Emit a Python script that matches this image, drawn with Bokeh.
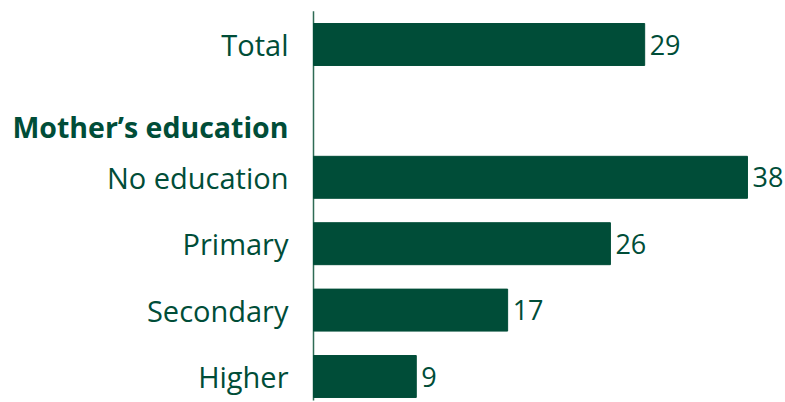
from bokeh.plotting import figure
from bokeh.models import Range1d, ColumnDataSource
from bokeh.core.properties import value
from bokeh.embed import file_html
from bokeh.resources import INLINE

categories = ["Total", "No education", "Primary", "Secondary", "Higher"]
values = [29, 38, 26, 17, 9]
header = "Mother\u2019s education"
positions = [0, 2, 3, 4, 5]
header_pos = 1.235

GREEN = "#004d38"
FONT = "Open Sans"

W, H = 785, 402
px_per_unit_y = 66.4
top_px = 44
scale_x = 11.42
axis_px = 313

p = figure(width=W, height=H, output_backend="svg", toolbar_location=None,
           min_border=0, outline_line_color=None,
           x_range=Range1d(-axis_px / scale_x, (W - axis_px) / scale_x),
           y_range=Range1d((H - top_px) / px_per_unit_y, -top_px / px_per_unit_y))
p.axis.visible = False
p.grid.visible = False
p.background_fill_color = "white"
p.border_fill_color = "white"

src = ColumnDataSource(dict(y=positions, v=values, cat=categories,
                            lab=[str(v) for v in values]))

# vertical baseline axis
p.segment(x0=[0], y0=[-0.5], x1=[0], y1=[5.36], line_color="#2e6b55", line_width=1.5)

p.hbar(y="y", left=0, right="v", height=0.632, source=src,
       fill_color=GREEN, line_color=GREEN, line_width=1)

p.text(x=0, y="y", text="cat", source=src, x_offset=-25, text_align="right",
       text_baseline="middle", text_font=value(FONT), text_font_size="29px",
       text_color=GREEN)
p.text(x="v", y="y", text="lab", source=src, x_offset=5, text_align="left",
       text_baseline="middle", text_font=value(FONT), text_font_size="27px",
       text_color=GREEN)
p.text(x=[0], y=[header_pos], text=[header], x_offset=-25, text_align="right",
       text_baseline="middle", text_font=value(FONT), text_font_size="28.5px",
       text_font_style="bold", text_color=GREEN)

open("out.html", "w").write(file_html(p, INLINE))
